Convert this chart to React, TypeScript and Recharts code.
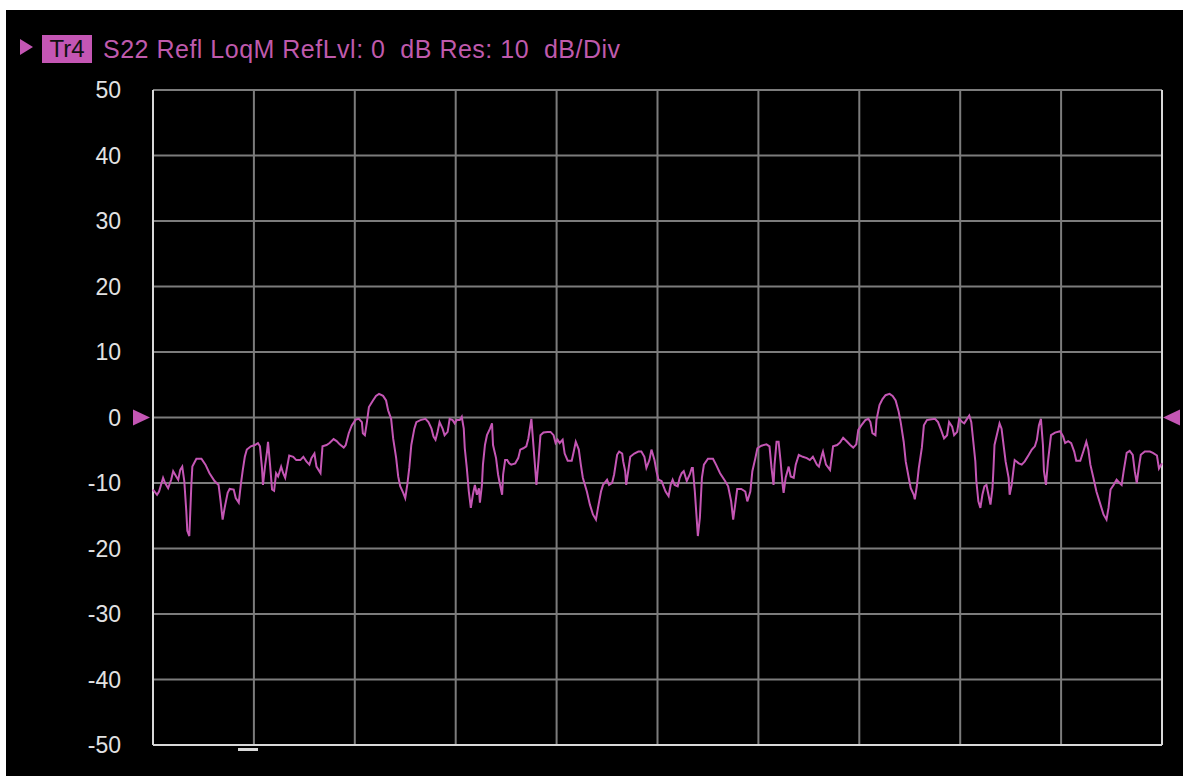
import React from 'react';
import { LineChart, Line, XAxis, YAxis, CartesianGrid, ReferenceLine, ReferenceDot } from 'recharts';

// S22 trace: [sweep point (0..1000), magnitude dB], one division block at a time
const seg1: [number, number][] = [
  [0, -11.0], [4, -11.8], [6, -11.3], [10, -9.2], [12, -10.0], [15, -10.8], [18, -9.5], [20, -8.2], [23, -9.0], [25, -9.5],
  [27, -8.0], [29, -7.5], [31, -9.7], [33, -14.3], [34, -17.3], [36, -18.1], [38, -10.3], [39, -7.5], [43, -6.3], [48, -6.3],
  [52, -7.2], [56, -8.5], [61, -9.7], [65, -10.3], [67, -12.8], [69, -15.6], [71, -13.8], [74, -11.5], [76, -10.9], [80, -11.0],
  [82, -12.3], [85, -13.0], [87, -10.3], [89, -8.0], [91, -6.0], [93, -4.9], [97, -4.4], [101, -4.2], [104, -3.9], [106, -4.4],
  [108, -7.7], [109, -10.3], [111, -7.5], [113, -5.2], [114, -3.7], [116, -7.2], [118, -11.0], [120, -11.2], [122, -8.5], [124, -9.0],
  [127, -7.5], [129, -8.5], [131, -9.2], [133, -7.5], [135, -5.8], [139, -6.0], [142, -6.5], [146, -6.5], [149, -6.0], [152, -6.7],
  [155, -7.2], [157, -6.2], [160, -5.5], [162, -7.5], [166, -8.5],
];

const seg2: [number, number][] = [
  [168, -4.4], [172, -4.2], [175, -3.9], [179, -3.3], [182, -3.6], [185, -4.1], [189, -4.6], [191, -4.2], [194, -2.4], [197, -1.2],
  [201, -0.3], [204, -0.2], [207, -0.7], [208, -2.4], [210, -2.7], [212, -0.7], [214, 1.6], [218, 2.6], [221, 3.3], [224, 3.6],
  [228, 3.3], [231, 2.6], [233, 1.1], [236, -0.2], [238, -3.2], [241, -6.2], [243, -9.0], [245, -10.5], [248, -11.5], [250, -12.3],
  [252, -10.3], [254, -7.7], [256, -4.2], [259, -1.7], [261, -0.7], [265, -0.4], [270, -0.2], [273, -0.7], [276, -1.7], [278, -2.9],
  [280, -3.4], [282, -2.2], [284, -0.7], [287, -1.7], [289, -2.7], [292, -2.2], [294, -0.2], [297, -0.4], [299, -0.9], [301, -0.4],
  [304, -0.4], [306, 0.1], [308, -1.7], [309, -4.7], [311, -7.7], [313, -11.3], [315, -13.8], [317, -11.8], [319, -10.3], [321, -11.8],
  [323, -10.8], [324, -13.0], [326, -10.3], [327, -7.2], [329, -4.2], [331, -2.7], [334, -1.7],
];

const seg3: [number, number][] = [
  [336, -0.9], [337, -4.2], [340, -6.2], [342, -8.7], [344, -10.3], [346, -11.8], [347, -8.7], [349, -6.5], [351, -6.5], [353, -7.0],
  [355, -7.2], [359, -7.0], [362, -6.2], [364, -4.9], [367, -4.7], [370, -4.4], [372, -3.2], [374, -1.2], [375, -0.2], [377, -4.2],
  [379, -8.2], [380, -10.3], [382, -6.7], [384, -2.7], [387, -2.3], [391, -2.2], [394, -2.2], [397, -2.7], [399, -3.9], [401, -3.4],
  [403, -3.9], [406, -3.4], [408, -5.5], [411, -6.6], [415, -6.6], [417, -5.2], [419, -3.7], [422, -4.9], [424, -7.2], [426, -9.2],
  [430, -11.3], [433, -13.3], [436, -14.8], [439, -15.6], [441, -13.8], [444, -11.3], [446, -10.3], [450, -9.5], [452, -10.3], [455, -10.0],
  [457, -8.7], [460, -5.7], [462, -5.2], [465, -5.5], [466, -6.7], [468, -8.2], [469, -10.3], [471, -8.2], [473, -6.0], [477, -5.5],
  [481, -5.2], [484, -5.2], [487, -6.0], [489, -7.7], [492, -6.5], [494, -4.9], [497, -6.5], [499, -8.2], [501, -9.5],
];

const seg4: [number, number][] = [
  [504, -9.7], [506, -10.5], [508, -11.3], [511, -12.0], [513, -10.3], [515, -9.5], [517, -10.3], [520, -10.5], [522, -9.2], [524, -8.5],
  [526, -8.2], [529, -9.7], [532, -8.7], [534, -7.7], [535, -7.7], [537, -11.3], [539, -15.8], [540, -18.1], [542, -15.3], [544, -9.2],
  [546, -7.2], [550, -6.3], [555, -6.3], [558, -7.2], [562, -8.5], [567, -9.7], [570, -10.5], [573, -12.8], [575, -15.6], [577, -13.3],
  [579, -10.9], [583, -10.9], [587, -11.3], [589, -12.8], [592, -11.3], [594, -8.2], [597, -6.2], [599, -4.7], [603, -4.3], [608, -4.1],
  [611, -4.4], [613, -7.7], [615, -10.3], [616, -7.2], [618, -3.7], [620, -3.7], [622, -6.7], [624, -10.3], [625, -11.5], [627, -9.2],
  [630, -7.5], [632, -9.0], [635, -9.2], [637, -7.2], [640, -5.7], [644, -6.0], [648, -6.2], [651, -6.5], [654, -6.0], [658, -7.2],
  [660, -7.5], [663, -5.7], [664, -5.2], [667, -7.2], [671, -8.0],
];

const seg5: [number, number][] = [
  [674, -4.4], [678, -4.2], [681, -3.8], [684, -3.1], [688, -3.7], [691, -4.2], [694, -4.6], [697, -4.1], [699, -1.9], [702, -1.2],
  [706, -0.4], [709, -0.2], [711, -0.7], [713, -2.4], [716, -2.7], [717, -0.4], [720, 1.9], [723, 2.8], [726, 3.4], [730, 3.6],
  [733, 3.3], [736, 2.6], [739, 0.9], [741, -0.7], [744, -3.7], [746, -6.7], [749, -9.2], [751, -10.8], [754, -11.8], [755, -12.5],
  [757, -10.5], [759, -7.7], [762, -4.6], [764, -1.2], [767, -0.4], [770, -0.3], [775, -0.2], [778, -0.7], [781, -1.9], [784, -3.2],
  [787, -2.7], [789, -0.7], [792, -1.4], [794, -2.7], [797, -2.2], [799, -0.2], [802, -0.7], [804, -0.9], [806, -0.4], [809, 0.3],
  [811, -0.7], [813, -3.7], [815, -6.7], [816, -9.7], [818, -12.8], [820, -13.8], [822, -11.8], [824, -10.5], [826, -10.3], [828, -11.8],
  [830, -13.3], [832, -10.8], [833, -7.7], [834, -4.2], [837, -2.2], [839, -0.9],
];

const seg6: [number, number][] = [
  [841, -1.7], [843, -4.2], [845, -6.7], [848, -9.2], [849, -11.8], [851, -10.3], [853, -7.7], [854, -6.5], [858, -7.0], [861, -7.2],
  [864, -6.7], [868, -5.7], [871, -4.9], [874, -4.4], [876, -3.4], [878, -1.2], [880, -0.2], [882, -4.2], [883, -8.2], [885, -10.3],
  [887, -6.7], [890, -2.7], [894, -2.3], [899, -2.1], [902, -2.9], [904, -3.9], [907, -3.6], [910, -3.9], [913, -5.2], [915, -6.6],
  [919, -6.6], [922, -5.2], [925, -3.7], [927, -4.9], [929, -7.2], [932, -9.2], [935, -11.3], [939, -13.3], [942, -14.8], [945, -15.6],
  [947, -13.8], [949, -11.0], [952, -10.3], [955, -9.5], [958, -10.0], [960, -10.3], [962, -8.2], [965, -5.4], [968, -5.1], [971, -5.7],
  [973, -8.2], [975, -10.0], [977, -7.7], [979, -5.7], [983, -5.2], [988, -5.2], [991, -5.4], [995, -5.8], [997, -7.8], [1000, -7.0],
];

const yTicks = [50, 40, 30, 20, 10, 0, -10, -20, -30, -40, -50];
const xDivs = [0, 100, 200, 300, 400, 500, 600, 700, 800, 900, 1000];
const title = 'S22 Refl LoqM RefLvl: 0  dB Res: 10  dB/Div';
const refLevel = 0;

const data = [...seg1, ...seg2, ...seg3, ...seg4, ...seg5, ...seg6].map(([pt, db]) => ({ pt, db }));

const MAG = '#c456b4';
const GRID = '#7c7c7c';
const FONT = '"Liberation Sans", Arial, sans-serif';

const leftArrow = (p: any) => (
  <polygon points={`${p.cx - 20},${p.cy - 8} ${p.cx - 3},${p.cy} ${p.cx - 20},${p.cy + 8}`} fill={MAG} />
);
const rightArrow = (p: any) => (
  <polygon points={`${p.cx + 18},${p.cy - 8} ${p.cx + 1},${p.cy} ${p.cx + 18},${p.cy + 8}`} fill={MAG} />
);

export default function App() {
  return (
    <div style={{ position: 'absolute', left: 6, top: 10, width: 1177, height: 766, background: '#000', fontFamily: FONT }}>
      <div
        style={{
          position: 'absolute', left: 14, top: 29, width: 0, height: 0,
          borderTop: '8px solid transparent', borderBottom: '8px solid transparent', borderLeft: `13px solid ${MAG}`,
        }}
      />
      <div
        style={{
          position: 'absolute', left: 36, top: 25, width: 50, height: 28, background: MAG, color: '#111',
          fontSize: 24, lineHeight: '28px', textAlign: 'center',
        }}
      >
        Tr4
      </div>
      <div
        style={{
          position: 'absolute', left: 97, top: 24, color: '#bf5aac', fontSize: 25, lineHeight: '30px',
          letterSpacing: 0.5, whiteSpace: 'pre',
        }}
      >
        {title}
      </div>
      <div style={{ position: 'absolute', left: 232, top: 738, width: 20, height: 3, background: '#d8d8d8' }} />
      <LineChart width={1177} height={766} data={data} margin={{ top: 80, right: 21, bottom: 31, left: 0 }}>
        <CartesianGrid stroke={GRID} strokeWidth={2} vertical={false} />
        <XAxis
          type="number"
          dataKey="pt"
          domain={[0, 1000]}
          ticks={xDivs}
          tick={false}
          tickLine={false}
          axisLine={false}
          height={0}
        />
        <YAxis
          type="number"
          domain={[-50, 50]}
          ticks={yTicks}
          width={147}
          axisLine={false}
          tickLine={false}
          tickSize={0}
          tickMargin={32}
          tick={{ fill: '#e2e2e2', fontSize: 23, fontFamily: FONT }}
        />
        {xDivs.slice(1, -1).map((v) => (
          <ReferenceLine key={v} x={v} stroke={GRID} strokeWidth={2} />
        ))}
        <ReferenceLine x={0} stroke="#d8d8d8" strokeWidth={2} />
        <ReferenceLine x={1000} stroke="#d8d8d8" strokeWidth={2} />
        <ReferenceLine y={-50} stroke="#d8d8d8" strokeWidth={2} />
        <Line
          type="linear"
          dataKey="db"
          stroke={MAG}
          strokeWidth={2}
          dot={false}
          isAnimationActive={false}
        />
        <ReferenceDot x={0} y={refLevel} r={0} ifOverflow="visible" shape={leftArrow} />
        <ReferenceDot x={1000} y={refLevel} r={0} ifOverflow="visible" shape={rightArrow} />
      </LineChart>
    </div>
  );
}
